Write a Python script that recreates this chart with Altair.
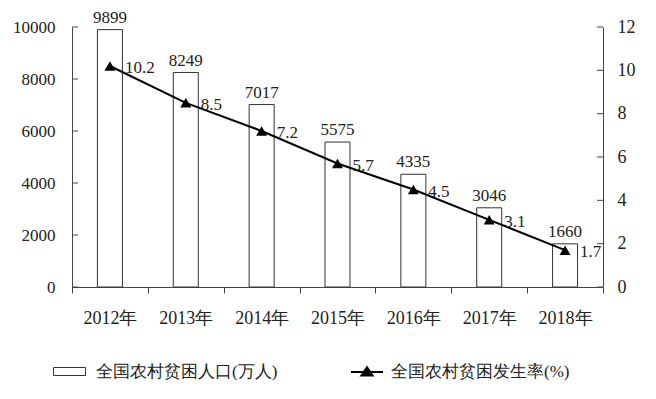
import altair as alt
import pandas as pd

years = ["2012年", "2013年", "2014年", "2015年", "2016年", "2017年", "2018年"]
population = [9899, 8249, 7017, 5575, 4335, 3046, 1660]
rate = [10.2, 8.5, 7.2, 5.7, 4.5, 3.1, 1.7]
left_ticks = [0, 2000, 4000, 6000, 8000, 10000]
right_ticks = [0, 2, 4, 6, 8, 10, 12]
s1 = "全国农村贫困人口(万人)"
s2 = "全国农村贫困发生率(%)"

df = pd.DataFrame({"year": years, "pop": population, "rate": rate,
                   "s1": [s1] * 7, "s2": [s2] * 7})
lt = pd.DataFrame({"v": left_ticks})
rt = pd.DataFrame({"v": right_ticks})

W, H = 531, 260
FONT = "Liberation Serif"
TXT = "#222222"

RECT_PATH = "M-1,-0.25H1V0.25H-1Z"
LINE_PATH = "M-1,0H1M-0.35,0.22L0,-0.3L0.35,0.22Z"

x_enc = alt.X("year:N", sort=years, title=None,
              scale=alt.Scale(paddingInner=0, paddingOuter=0),
              axis=alt.Axis(labelAngle=0, tickBand="extent", tickSize=6,
                            labelPadding=16, labelFontSize=18, labelFont=FONT,
                            labelColor=TXT, domainColor="#444", tickColor="#444"))

yl_scale = alt.Scale(domain=[0, 10000], nice=False)
yr_scale = alt.Scale(domain=[0, 12], nice=False)

left_axis = alt.Axis(values=left_ticks, ticks=False, labelPadding=17, format="d",
                     labelFontSize=17, labelFont=FONT, labelColor=TXT,
                     domainColor="#444", grid=False)
right_axis = alt.Axis(orient="right", values=right_ticks, ticks=False,
                      labelPadding=14, labelFontSize=18, labelFont=FONT,
                      labelColor=TXT, domainColor="#444", grid=False)

bars = alt.Chart(df).mark_bar(size=25, stroke="#333", strokeWidth=1).encode(
    x=x_enc,
    y=alt.Y("pop:Q", scale=yl_scale, title=None, axis=left_axis),
    fill=alt.Fill("s1:N", title=None, scale=alt.Scale(range=["white"]),
                  legend=alt.Legend(orient="none", legendX=-19, legendY=328,
                                    symbolType=RECT_PATH, symbolSize=1024,
                                    symbolStrokeColor="#333", symbolStrokeWidth=1,
                                    labelOffset=10, labelFontSize=17, labelFont=FONT,
                                    labelColor=TXT, labelLimit=400, padding=0)),
)
bar_labels = alt.Chart(df).mark_text(baseline="bottom", dy=-3, fontSize=17,
                                     font=FONT, color=TXT).encode(
    x=alt.X("year:N", sort=years),
    y=alt.Y("pop:Q", scale=yl_scale, title=None, axis=left_axis),
    text=alt.Text("pop:Q", format="d"),
)
left_tick_rules = alt.Chart(lt).mark_rule(color="#444").encode(
    y=alt.Y("v:Q", scale=yl_scale, title=None, axis=left_axis),
    x=alt.value(0), x2=alt.value(6),
)
left = alt.layer(bars, bar_labels, left_tick_rules)

line = alt.Chart(df).mark_line(color="black", strokeWidth=2).encode(
    x=alt.X("year:N", sort=years),
    y=alt.Y("rate:Q", scale=yr_scale, title=None, axis=right_axis),
)
points = alt.Chart(df).mark_point(shape="triangle-up", size=120, filled=True,
                                  opacity=1).encode(
    x=alt.X("year:N", sort=years),
    y=alt.Y("rate:Q", scale=yr_scale, title=None, axis=right_axis),
    fill=alt.Fill("s2:N", title=None, scale=alt.Scale(range=["black"]),
                  legend=alt.Legend(orient="none", legendX=278, legendY=328,
                                    symbolType=LINE_PATH, symbolSize=1024,
                                    symbolStrokeColor="black", symbolStrokeWidth=2,
                                    labelOffset=7, labelFontSize=17, labelFont=FONT,
                                    labelColor=TXT, labelLimit=400, padding=0)),
)
rate_labels = alt.Chart(df).mark_text(align="left", baseline="middle", dx=15, dy=2,
                                      fontSize=17, font=FONT, color=TXT).encode(
    x=alt.X("year:N", sort=years),
    y=alt.Y("rate:Q", scale=yr_scale, title=None, axis=right_axis),
    text=alt.Text("rate:Q", format=".1f"),
)
right_tick_rules = alt.Chart(rt).mark_rule(color="#444").encode(
    y=alt.Y("v:Q", scale=yr_scale, title=None, axis=right_axis),
    x=alt.value(W - 6), x2=alt.value(W),
)
right = alt.layer(line, points, rate_labels, right_tick_rules)

chart = alt.layer(left, right).resolve_scale(
    y="independent", fill="independent"
).properties(
    width=W, height=H, autosize="none",
    padding={"left": 64, "top": 19, "right": 45, "bottom": 100},
).configure_view(stroke=None)

chart.save("out.html", embed_options={"renderer": "svg", "actions": False})
